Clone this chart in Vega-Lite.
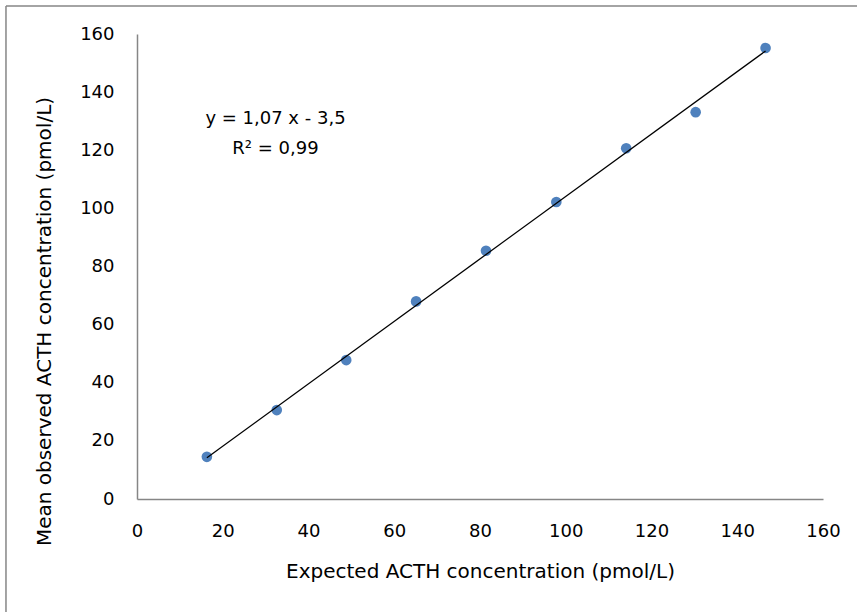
{
  "$schema": "https://vega.github.io/schema/vega-lite/v6.json",
  "width": 686,
  "height": 465,
  "autosize": {"type": "none"},
  "padding": {"left": 137, "top": 34, "right": 34, "bottom": 113},
  "background": "white",
  "config": {"view": {"stroke": null}, "font": "DejaVu Sans"},
  "data": {
    "values": [
      {"expected": 16.3, "observed": 14.5},
      {"expected": 32.6, "observed": 30.6},
      {"expected": 48.8, "observed": 47.8},
      {"expected": 65.1, "observed": 68.0},
      {"expected": 81.4, "observed": 85.4},
      {"expected": 97.8, "observed": 102.2},
      {"expected": 114.1, "observed": 120.7},
      {"expected": 130.3, "observed": 133.1},
      {"expected": 146.6, "observed": 155.2}
    ]
  },
  "layer": [
    {
      "mark": {"type": "point", "filled": true, "size": 113, "color": "#4F81BD", "opacity": 1},
      "encoding": {
        "x": {
          "field": "expected", "type": "quantitative",
          "scale": {"domain": [0, 160], "nice": false, "zero": false},
          "axis": {
            "values": [0, 20, 40, 60, 80, 100, 120, 140, 160],
            "grid": false, "ticks": false,
            "domainColor": "#868686", "domainWidth": 1.5,
            "labelFontSize": 18, "labelColor": "black", "labelPadding": 23,
            "labelFlush": false, "labelOverlap": false,
            "title": "Expected ACTH concentration (pmol/L)",
            "titleFontSize": 20, "titleFontWeight": "normal", "titleColor": "black",
            "titleY": 78, "titleBaseline": "alphabetic"
          }
        },
        "y": {
          "field": "observed", "type": "quantitative",
          "scale": {"domain": [0, 160], "nice": false, "zero": false},
          "axis": {
            "values": [0, 20, 40, 60, 80, 100, 120, 140, 160],
            "grid": false, "ticks": false,
            "domainColor": "#868686", "domainWidth": 1.5,
            "labelFontSize": 18, "labelColor": "black", "labelPadding": 23,
            "labelFlush": false, "labelOverlap": false,
            "title": "Mean observed ACTH concentration (pmol/L)",
            "titleFontSize": 20, "titleFontWeight": "normal", "titleColor": "black",
            "titleX": -87, "titleY": 287, "titleAngle": 270,
            "titleAlign": "center", "titleBaseline": "alphabetic"
          }
        }
      }
    },
    {
      "transform": [{"regression": "observed", "on": "expected"}],
      "mark": {"type": "line", "color": "black", "strokeWidth": 1.3},
      "encoding": {
        "x": {"field": "expected", "type": "quantitative"},
        "y": {"field": "observed", "type": "quantitative"}
      }
    },
    {
      "data": {"values": [{"eq": "y = 1,07 x - 3,5", "r2": "R² = 0,99"}]},
      "mark": {
        "type": "text", "fontSize": 18, "color": "black",
        "align": "center", "baseline": "middle", "lineHeight": 29.5,
        "text": ["y = 1,07 x - 3,5", "R² = 0,99"]
      },
      "encoding": {
        "x": {"datum": 32.3, "type": "quantitative"},
        "y": {"datum": 130.7, "type": "quantitative"}
      }
    },
    {
      "data": {"values": [{"border": "left"}]},
      "mark": {"type": "rule", "color": "#868686", "strokeWidth": 1.5},
      "encoding": {
        "x": {"datum": -30.56, "type": "quantitative"},
        "y": {"datum": 169.6, "type": "quantitative"},
        "y2": {"datum": -60}
      }
    },
    {
      "data": {"values": [{"border": "top"}]},
      "mark": {"type": "rule", "color": "#868686", "strokeWidth": 1.5},
      "encoding": {
        "x": {"datum": -30.56, "type": "quantitative"},
        "x2": {"datum": 200},
        "y": {"datum": 169.6, "type": "quantitative"}
      }
    }
  ]
}
